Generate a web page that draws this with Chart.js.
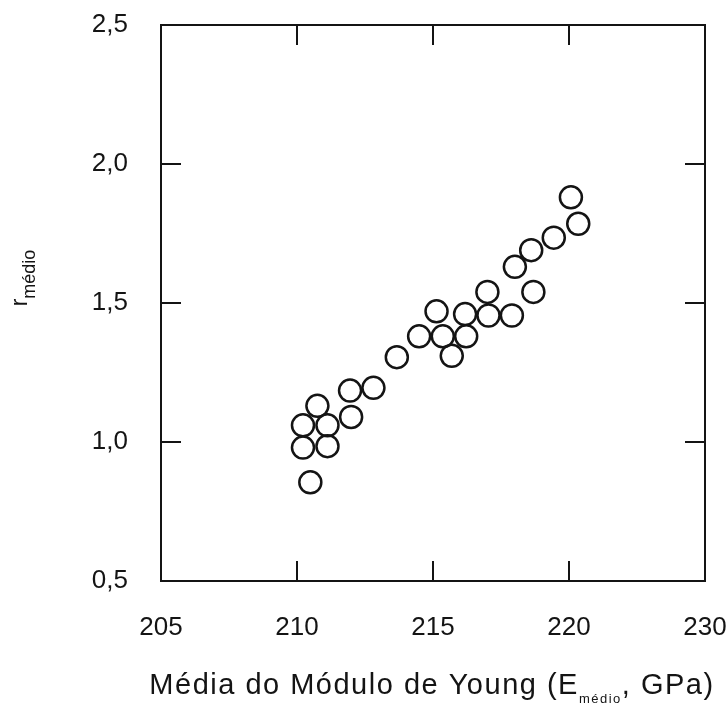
<!DOCTYPE html>
<html>
<head>
<meta charset="utf-8">
<script src="https://cdn.jsdelivr.net/npm/chart.js@4/dist/chart.umd.min.js"></script>
<style>
  html, body { margin: 0; padding: 0; background: #fff; }
  #wrap { width: 727px; height: 713px; }
</style>
</head>
<body>
<div id="wrap"><canvas id="chart" width="727" height="713"></canvas></div>
<script>
// Média do Módulo de Young (GPa) x r médio
const eMedio = [210.22, 210.22, 210.49, 210.75, 211.12, 211.12, 211.95, 211.99, 212.81, 213.67,
                214.49, 215.13, 215.36, 215.69, 216.18, 216.22, 217.0, 217.04, 217.9, 218.01,
                218.61, 218.69, 219.44, 220.07, 220.34];
const rMedio = [1.06, 0.98, 0.855, 1.13, 1.06, 0.985, 1.185, 1.09, 1.195, 1.305,
                1.38, 1.47, 1.38, 1.31, 1.46, 1.38, 1.54, 1.455, 1.455, 1.63,
                1.69, 1.54, 1.735, 1.88, 1.785];

const xTickValues = [205, 210, 215, 220, 225];
const xTickLabels = ["205", "210", "215", "220", "230"];
const yTickValues = [0.5, 1.0, 1.5, 2.0, 2.5];
const yTickLabels = ["0,5", "1,0", "1,5", "2,0", "2,5"];

const ink = "#141414";
const fontFam = "'Liberation Sans', Arial, sans-serif";

// moldura + marcas internas + títulos com subscrito
const framePlugin = {
    id: "frame",
    afterDraw(chart) {
        const { ctx, chartArea: a, scales: { x, y } } = chart;
        ctx.save();
        ctx.strokeStyle = ink;
        ctx.lineWidth = 2;
        ctx.strokeRect(a.left, a.top, a.right - a.left, a.bottom - a.top);

        const len = 20;
        ctx.beginPath();
        xTickValues.slice(1, -1).forEach(v => {
            const px = x.getPixelForValue(v);
            ctx.moveTo(px, a.bottom); ctx.lineTo(px, a.bottom - len);
            ctx.moveTo(px, a.top); ctx.lineTo(px, a.top + len);
        });
        yTickValues.slice(1, -1).forEach(v => {
            const py = y.getPixelForValue(v);
            ctx.moveTo(a.left, py); ctx.lineTo(a.left + len, py);
            ctx.moveTo(a.right, py); ctx.lineTo(a.right - len, py);
        });
        ctx.stroke();

        // título eixo x
        ctx.fillStyle = ink;
        ctx.textBaseline = "alphabetic";
        ctx.textAlign = "left";
        ctx.letterSpacing = "1.5px";
        const big = "29px " + fontFam, small = "13px " + fontFam;
        const parts = [["Média do Módulo de Young (E", big, 0], ["médio", small, 9], [", GPa)", big, 0]];
        let total = 0;
        parts.forEach(p => { ctx.font = p[1]; total += ctx.measureText(p[0]).width; });
        let cx = 432 - total / 2;
        parts.forEach(p => {
            ctx.font = p[1];
            ctx.fillText(p[0], cx, 694 + p[2]);
            cx += ctx.measureText(p[0]).width;
        });

        // título eixo y
        ctx.letterSpacing = "0px";
        ctx.translate(27, 278);
        ctx.rotate(-Math.PI / 2);
        const yParts = [["r", "23px " + fontFam, 0], ["médio", "18px " + fontFam, 8]];
        total = 0;
        yParts.forEach(p => { ctx.font = p[1]; total += ctx.measureText(p[0]).width; });
        cx = -total / 2;
        yParts.forEach(p => {
            ctx.font = p[1];
            ctx.fillText(p[0], cx, p[2]);
            cx += ctx.measureText(p[0]).width;
        });
        ctx.restore();
    }
};

new Chart(document.getElementById("chart"), {
    type: "scatter",
    data: {
        datasets: [{
            data: eMedio.map((v, i) => ({ x: v, y: rMedio[i] })),
            pointRadius: 11,
            pointHoverRadius: 11,
            pointBorderWidth: 2.5,
            borderColor: ink,
            backgroundColor: "rgba(0,0,0,0)",
            clip: false
        }]
    },
    options: {
        responsive: false,
        animation: false,
        events: [],
        layout: { padding: { top: 25, right: 22, left: 0, bottom: 0 } },
        plugins: { legend: { display: false }, tooltip: { enabled: false } },
        scales: {
            x: {
                type: "linear",
                min: 205, max: 225,
                grid: { display: false, drawTicks: false },
                border: { display: false },
                afterBuildTicks: scale => { scale.ticks = xTickValues.map(v => ({ value: v })); },
                afterFit: scale => { scale.height = 132; scale.paddingLeft = 0; scale.paddingRight = 0; },
                ticks: {
                    autoSkip: false, maxRotation: 0, padding: 31,
                    color: ink, font: { family: fontFam, size: 26 },
                    callback: (v, i) => xTickLabels[i]
                }
            },
            y: {
                type: "linear",
                min: 0.5, max: 2.5,
                grid: { display: false, drawTicks: false },
                border: { display: false },
                afterBuildTicks: scale => { scale.ticks = yTickValues.map(v => ({ value: v })); },
                afterFit: scale => { scale.width = 161; scale.paddingTop = 0; scale.paddingBottom = 0; },
                ticks: {
                    autoSkip: false, padding: 33,
                    color: ink, font: { family: fontFam, size: 26 },
                    callback: (v, i) => yTickLabels[i]
                }
            }
        }
    },
    plugins: [framePlugin]
});
</script>
</body>
</html>
